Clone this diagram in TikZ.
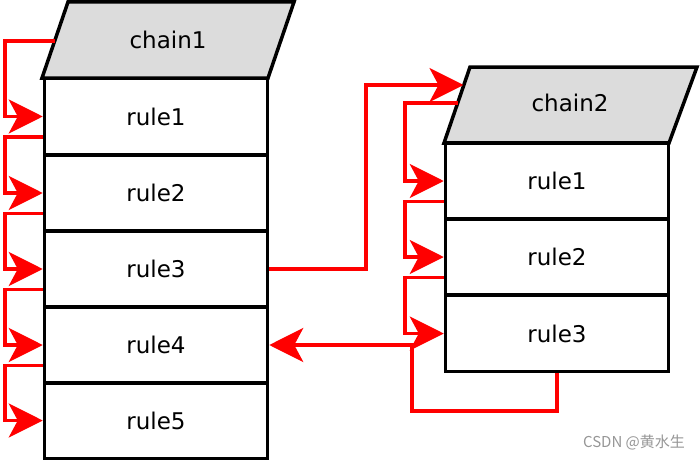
\documentclass[tikz,border=0pt]{standalone}
\usepackage{fontspec}
\setmainfont{DejaVu Sans}
\newfontfamily\cjkfont{Noto Sans CJK SC}
\usetikzlibrary{arrows.meta}
\definecolor{chainfill}{RGB}{220,220,220}
\definecolor{wmgray}{RGB}{150,150,150}
\begin{document}
\begin{tikzpicture}[x=1pt,y=-1pt,
  rulebox/.style={draw=black,line width=3.5pt,minimum width=223pt,minimum height=76pt,inner sep=0pt,font=\fontsize{23}{27}\selectfont},
  chainshape/.style={draw=black,fill=chainfill,line width=3.5pt,line join=miter},
  chainlabel/.style={inner sep=0pt,font=\fontsize{23}{27}\selectfont},
  conn/.style={draw=red,line width=3.5pt,-{Stealth[length=34pt,width=34pt,inset=9pt]}}]
\useasboundingbox (0,0) rectangle (700,460);
% chain1
\draw[chainshape] (42,78) -- (68,2) -- (294,2) -- (268,78) -- cycle;
\node[chainlabel] (c1) at (168,40) {chain1};
\node[rulebox] (r1) at (156,116.5) {rule1};
\node[rulebox] (r2) at (156,193) {rule2};
\node[rulebox] (r3) at (156,269) {rule3};
\node[rulebox] (r4) at (156,345) {rule4};
\node[rulebox] (r5) at (156,420.5) {rule5};
% chain2
\draw[chainshape] (444,143) -- (470,67) -- (697,67) -- (669,143) -- cycle;
\node[chainlabel] (c2) at (570,103) {chain2};
\node[rulebox] (s1) at (557,181) {rule1};
\node[rulebox] (s2) at (557,257) {rule2};
\node[rulebox] (s3) at (557,333.5) {rule3};
% edge points
\coordinate (c1l) at (54.7,41);
\coordinate (c2out) at (457.7,103);
\coordinate (c2in) at (463.5,85);
\coordinate (lx) at (5,0);
\coordinate (mx) at (405,0);
% chain1 internal arrows
\draw[conn] (c1l) -| (lx |- r1.west) -- (r1.west);
\draw[conn] ([yshift=19.5pt]r1.south west) -| (lx |- r2.west) -- (r2.west);
\draw[conn] ([yshift=19.5pt]r2.south west) -| (lx |- r3.west) -- (r3.west);
\draw[conn] ([yshift=19.5pt]r3.south west) -| (lx |- r4.west) -- (r4.west);
\draw[conn] ([yshift=19.5pt]r4.south west) -| (lx |- r5.west) -- (r5.west);
% jump to chain2
\coordinate (jx) at (366,0);
\draw[conn] (r3.east) -| (jx |- c2in) -- (c2in);
% chain2 internal arrows
\draw[conn] (c2out) -| (mx |- s1.west) -- (s1.west);
\draw[conn] ([yshift=19.5pt]s1.south west) -| (mx |- s2.west) -- (s2.west);
\draw[conn] ([yshift=19.5pt]s2.south west) -| (mx |- s3.west) -- (s3.west);
% return
\coordinate (ry) at (0,411);
\coordinate (rx) at (412,0);
\draw[conn] (s3.south) -- (s3.south |- ry) -| (rx |- r4.east) -- (r4.east);
% watermark
\node[inner sep=0pt,text=wmgray,font=\cjkfont\fontsize{15}{18}\selectfont] (wm) at (634,442) {CSDN @黄水生};
\end{tikzpicture}
\end{document}
